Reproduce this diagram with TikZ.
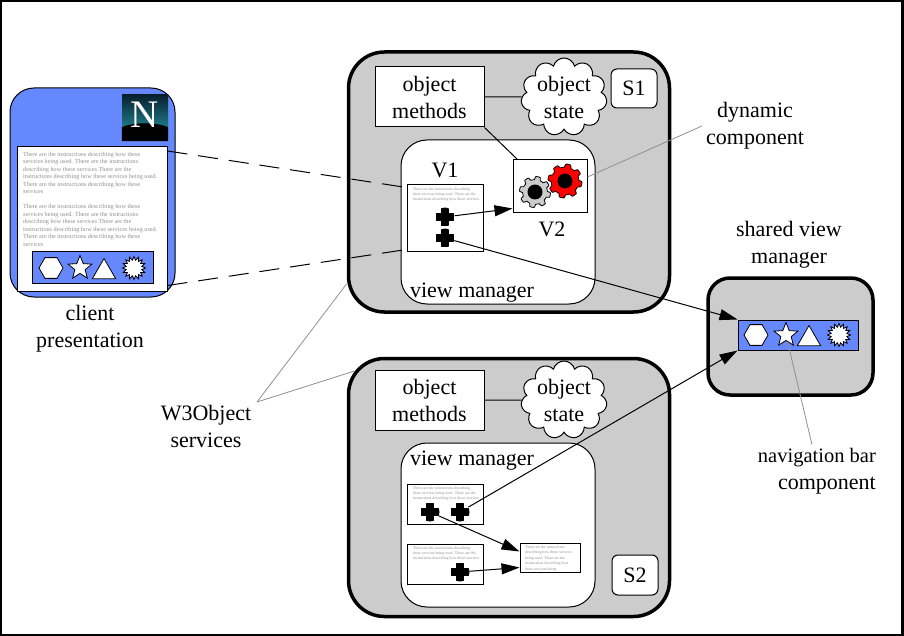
\documentclass[tikz,border=0pt]{standalone}
\usepackage{fontspec}
\setmainfont{Liberation Serif}
\usetikzlibrary{arrows.meta,shapes.geometric,shapes.symbols}
\definecolor{panel}{HTML}{CCCCCC}
\definecolor{navblue}{HTML}{6688FF}
\definecolor{ink}{HTML}{909090}
\definecolor{logotop}{HTML}{08202E}
\definecolor{logolow}{HTML}{2AA0AE}
\tikzset{
    declare function={cogr(\a,\r)=\r-1.6+min(1.6,max(-1.6,4*sin(8*\a)));},
    thin box/.style={draw,fill=white,line width=1pt,inner sep=0pt},
    server/.style={draw,fill=panel,line width=3.5pt,inner sep=0pt,rounded corners=36pt},
    manager/.style={thin box,rounded corners=26pt},
    tag/.style={thin box,rounded corners=6pt,font=\fontsize{22}{26}\selectfont},
    label/.style={align=center,inner sep=0pt,font=\fontsize{22}{27}\selectfont},
    methods/.style={thin box,minimum width=109pt,minimum height=60pt,align=center,font=\fontsize{22}{27}\selectfont},
    state/.style={cloud,cloud puffs=11,cloud ignores aspect,draw,fill=white,line width=1pt,inner sep=0pt,minimum width=86pt,minimum height=78pt,align=center,font=\fontsize{22}{27}\selectfont},
    navbar/.style={draw,fill=navblue,line width=1pt,inner sep=0pt},
    hexicon/.style={regular polygon,regular polygon sides=6,draw,fill=white,line width=.8pt,inner sep=0pt,minimum size=24pt},
    staricon/.style={star,star points=5,star point ratio=2.3,draw,fill=white,line width=.8pt,inner sep=0pt,minimum size=25pt},
    triicon/.style={regular polygon,regular polygon sides=3,draw,fill=white,line width=.8pt,inner sep=0pt,minimum size=27pt},
    bursticon/.style={starburst,starburst points=16,starburst point height=3.5pt,random starburst=0,draw,fill=white,line width=.8pt,inner sep=0pt,minimum size=23pt},
    plusmark/.style={circle,inner sep=0pt,minimum size=19pt,path picture={
        \fill[black] ([xshift=-4.2pt]path picture bounding box.north) rectangle ([xshift=4.2pt]path picture bounding box.south);
        \fill[black] ([yshift=-4.2pt]path picture bounding box.east) rectangle ([yshift=4.2pt]path picture bounding box.west);}},
    tiny/.style={align=left,inner sep=0pt,text=ink,anchor=north west},
    call/.style={line width=1pt,-{Triangle[length=18pt,width=11pt]}},
    leader/.style={draw=ink,line width=.8pt},
    link/.style={line width=1pt},
    slash/.style={line width=1pt,dash pattern=on 20pt off 11pt}
}
\newcommand{\cogwheel}[5]{% name, x, y, fill, radius
    \draw[fill=#4,line width=.8pt,shift={(#2,#3)}] plot[domain=0:360,samples=145] ({cogr(\x,#5)*cos(\x)},{cogr(\x,#5)*sin(\x)}) -- cycle;
    \node[circle,fill=black,inner sep=0pt,minimum size=15pt] (#1) at (#2,#3) {};
}
\newcommand{\instructions}{There are the instructions describing how these\\
    services being used. There are the instructions\\
    describing how these services There are the\\
    instructions describing how these services being used.\\
    There are the instructions describing how these\\
    services}
\newcommand{\viewtext}{These are the instructions describing\\these services being used. These are the\\instructions describing how these services.}
\begin{document}
\begin{tikzpicture}[x=1pt,y=-1pt]
    \useasboundingbox (0,0) rectangle (904,636);
    \draw[line width=2.4pt] (1,1) rectangle (902.6,635);

    % client presentation
    \node[draw,fill=navblue,line width=1pt,inner sep=0pt,rounded corners=24pt,minimum width=165pt,minimum height=209pt] (client) at (92.5,192.5) {};
    \node[thin box,minimum width=150pt,minimum height=144pt] (page) at (92,219) {};
    \node[inner sep=0pt,minimum width=46pt,minimum height=46pt,top color=logotop,bottom color=logolow] (logo) at (145,118) {};
    \fill[black] (logo.south west) -- (logo.south east) -- (168,127) .. controls (155,122) and (135,122) .. (122,127) -- cycle;
    \node[text=white,inner sep=0pt,font=\fontsize{39}{39}\selectfont] (logoN) at (145,114.5) {N};
    \node[tiny,font=\fontsize{6.2}{7.5}\selectfont] (pagetext) at (23,151.5) {\instructions\\[7.5pt]\instructions};
    \node[navbar,minimum width=121pt,minimum height=31pt] (bar) at (92.5,267.5) {};
    \node[hexicon] (hexa) at (51,268) {};
    \node[staricon] (stara) at (80,268) {};
    \node[triicon] (tria) at (104,272) {};
    \node[bursticon] (bursta) at (134,268) {};
    \node[label] (clientlabel) at (90,329) {client\\presentation};

    % server one
    \node[server,minimum width=321pt,minimum height=260pt] (sone) at (509,182) {};
    \node[methods] (methone) at (429.5,97) {object\\methods};
    \node[state] (stateone) at (564,97) {object\\state};
    \node[tag,minimum width=46pt,minimum height=39pt] (tagone) at (634,88.5) {S1};
    \node[manager,minimum width=194pt,minimum height=164pt] (vmone) at (498,222) {};
    \node[label,anchor=north] (vmonetext) at (472,283) {view manager};
    \node[label] (vonetext) at (445,170) {V1};
    \node[thin box,minimum width=76pt,minimum height=67pt] (vone) at (445,218.5) {};
    \node[tiny,font=\fontsize{3.9}{5}\selectfont] (vonetiny) at (413,187.5) {\viewtext};
    \node[thin box,minimum width=74pt,minimum height=53pt] (vtwo) at (550,186.5) {};
    \node[label] (vtwotext) at (552,229) {V2};
    \cogwheel{coggray}{535}{192}{panel}{15.5}
    \cogwheel{cogred}{565}{181}{red}{17}
    \node[plusmark] (plusa) at (445,217) {};
    \node[plusmark] (plusb) at (445,238) {};

    % server two
    \node[server,minimum width=321pt,minimum height=258pt] (stwo) at (509,487.5) {};
    \node[methods] (methtwo) at (429.5,400) {object\\methods};
    \node[state] (statetwo) at (564,400) {object\\state};
    \node[tag,minimum width=46pt,minimum height=40pt] (tagtwo) at (635,575) {S2};
    \node[manager,minimum width=194pt,minimum height=164pt] (vmtwo) at (498,525) {};
    \node[label,anchor=north] (vmtwotext) at (472,451) {view manager};
    \node[thin box,minimum width=76pt,minimum height=40pt] (vthree) at (445,504) {};
    \node[tiny,font=\fontsize{3.9}{5}\selectfont] (vthreetiny) at (413,486.5) {\viewtext};
    \node[thin box,minimum width=76pt,minimum height=40pt] (vfour) at (445,564) {};
    \node[tiny,font=\fontsize{3.9}{5}\selectfont] (vfourtiny) at (413,546.5) {\viewtext};
    \node[thin box,minimum width=60pt,minimum height=29pt] (vfive) at (550,557.5) {};
    \node[tiny,font=\fontsize{3.9}{5.4}\selectfont] (vfivetiny) at (525,545.5) {There are the instructions\\describing how these services\\being used. There are the\\instructions describing how\\these services being};
    \node[plusmark] (plusc) at (430,512) {};
    \node[plusmark] (plusd) at (460,512) {};
    \node[plusmark] (pluse) at (460,572) {};

    % shared view manager
    \node[server,rounded corners=22pt,minimum width=165pt,minimum height=117pt] (shared) at (790.5,336.5) {};
    \node[navbar,minimum width=120pt,minimum height=30pt] (sharedbar) at (798,335) {};
    \node[hexicon] (hexb) at (756,335) {};
    \node[staricon] (starb) at (786,335) {};
    \node[triicon] (trib) at (809,339) {};
    \node[bursticon] (burstb) at (839,335) {};
    \node[label] (sharedlabel) at (789,244.5) {shared view\\manager};

    % remaining labels
    \node[label] (dynlabel) at (755,126) {dynamic\\component};
    \node[label,align=right,anchor=east] (navlabel) at (876,471.5) {{\fontsize{20.5}{27}\selectfont navigation bar}\\component};
    \node[label] (w3label) at (206,426.5) {W3Object\\services};

    \coordinate (w3tip) at (257,402);

    \path[link]
        (methone) edge (stateone)
        (methone.south east) edge ([xshift=5pt]vtwo.north west)
        (methtwo) edge (statetwo);
    \path[slash]
        ([yshift=-4.5pt]page.north east) edge ([yshift=-3pt]vone.north west)
        ([yshift=6pt]page.south east) edge ([yshift=3pt]vone.south west);
    \path[call]
        (plusa) edge ([yshift=5pt]vtwo.south west)
        (plusb) edge (sharedbar.north west)
        (plusd) edge (sharedbar.south west)
        (plusc) edge ([yshift=21pt]vfive.south west)
        (pluse) edge ([yshift=5pt]vfive.south west);
    \path[leader]
        (w3tip) edge ([yshift=30pt]sone.south west)
        (w3tip) edge ([yshift=-14.5pt,xshift=7pt]stwo.north west)
        ([yshift=9.5pt]vtwo.east) edge ([xshift=-4pt]dynlabel.west)
        (starb) edge ([xshift=-5pt,yshift=4pt]navlabel.north);
\end{tikzpicture}
\end{document}
